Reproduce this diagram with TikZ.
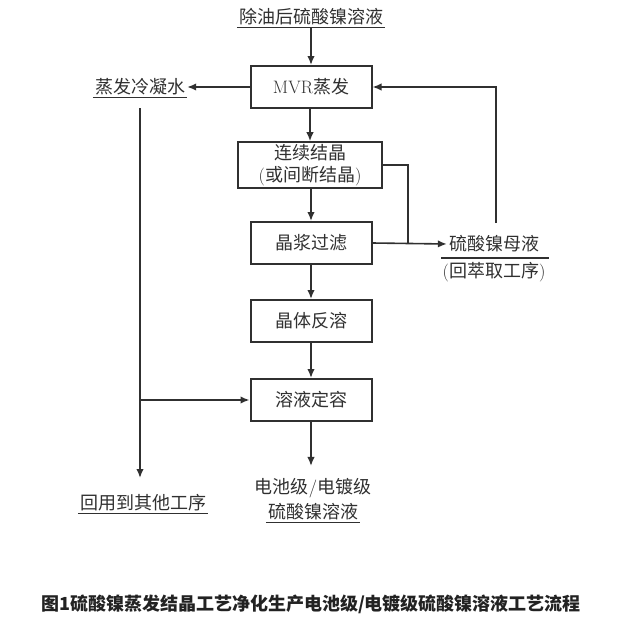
\documentclass[tikz,border=0pt]{standalone}
\usepackage{fontspec}
\newfontfamily\cjk{Noto Sans CJK SC}
\usepackage{tikz}
\usetikzlibrary{arrows.meta}
\definecolor{inkgray}{HTML}{303030}
\definecolor{capgray}{HTML}{222222}
\newcommand{\lat}[1]{{\rmfamily #1}}
\tikzstyle{stepbox}=[draw=inkgray,line width=2pt,minimum width=121pt,minimum height=42pt,inner sep=2pt,text=inkgray,align=center,font=\cjk\fontsize{18}{22}\selectfont]
\tikzstyle{plaintext}=[inner sep=2pt,text=inkgray,align=center,font=\cjk\fontsize{18}{24}\selectfont]
\tikzstyle{edge} = [draw=inkgray,line width=1.6pt,-{Latex[length=9pt,width=7.5pt]}]
\tikzstyle{undirectededge} = [draw=inkgray,line width=1.6pt]

\begin{document}
\begin{tikzpicture}[x=1pt,y=-1pt]
    \useasboundingbox (0,0) rectangle (618,624);

    % process steps down the middle
    \foreach \pos/\name/\txt in {{(311,87)/mvr/\lat{MVR}蒸发}, {(311,243)/filter/晶浆过滤}, {(311,321)/redis/晶体反溶}, {(311,400)/sol/溶液定容}}
        \node[stepbox] (\name) at \pos {\txt};
    \node[stepbox, minimum width=144pt] (cryst) at (310,165) {连续结晶\\\lat{(}或间断结晶\lat{)}};

    % inputs and outputs
    \node[plaintext] (feed) at (311,17) {除油后硫酸镍溶液};
    \node[plaintext] (cond) at (140,87) {蒸发冷凝水};
    \node[plaintext] (mother) at (494,244) {硫酸镍母液};
    \node[plaintext] (back) at (494,272) {\lat{(}回萃取工序\lat{)}};
    \node[plaintext] (reuse) at (143,503) {回用到其他工序};
    \node[plaintext] (prod) at (313,488) {电池级\lat{/}电镀级};
    \node[plaintext] (prodb) at (313,512) {硫酸镍溶液};

    % underlines
    \foreach \name in {feed, cond, reuse, prodb}
        \path[undirectededge] (\name.south west) -- (\name.south east);
    \path[undirectededge] (441,258) -- (549,258);

    \coordinate (cl) at (140,108);
    \coordinate (cb) at (140,478);
    \coordinate (jn) at (408,243);
    \coordinate (fb) at (496,223);

    % main flow
    \foreach \source/\dest in {feed/mvr, mvr/cryst, cryst/filter, filter/redis, redis/sol}
        \path[edge] (\source.south) -- (\source.south -| \dest.north) -- (\dest.north);
    \path[edge, shorten >=10pt] (sol.south) -- (sol.south |- prod.north);

    % condensate
    \path[edge] (mvr.west) -- (cond.east);
    \path[edge] (cl) -- (cb);
    \path[edge] (cl |- sol.west) -- (sol.west);

    % mother liquor
    \path[undirectededge] (cryst.east) -| (jn);
    \path[edge] (filter.east) -- (mother.west);
    \path[edge] (fb) |- (mvr.east);

    \node[inner sep=0pt, text=capgray, font=\cjk\bfseries\fontsize{18}{20}\selectfont] (caption) at (311,604) {图1硫酸镍蒸发结晶工艺净化生产电池级/电镀级硫酸镍溶液工艺流程};
\end{tikzpicture}
\end{document}
